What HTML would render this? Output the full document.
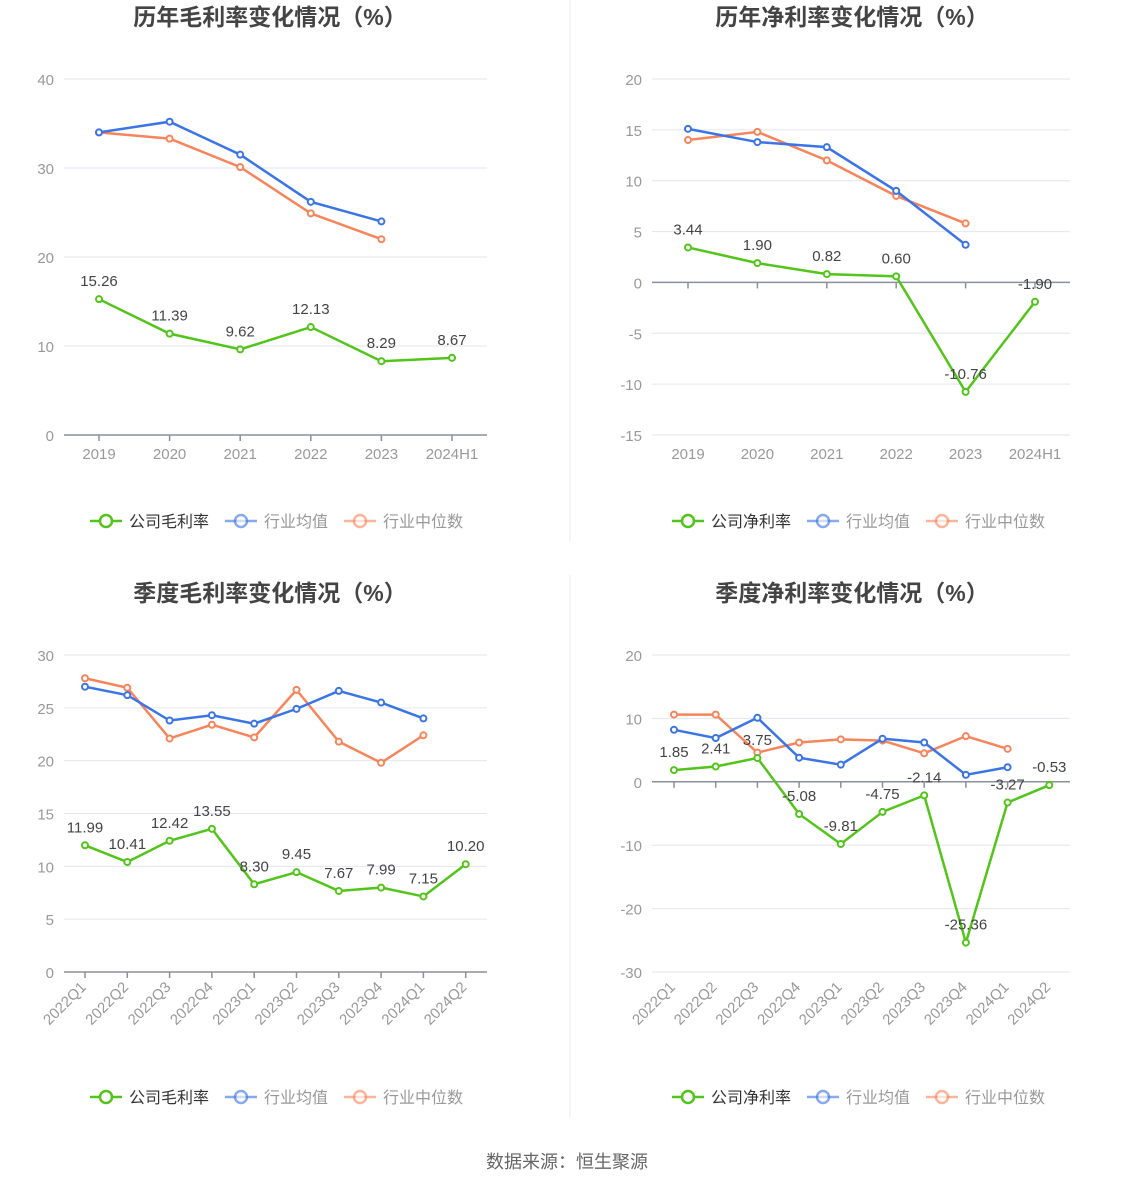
<!DOCTYPE html>
<html><head><meta charset="utf-8"><style>
body{margin:0;background:#fff;font-family:"Liberation Sans","Noto Sans CJK SC",sans-serif;}
svg{display:block}
</style></head><body>
<svg id="s" width="1134" height="1188" xmlns="http://www.w3.org/2000/svg">
<line x1="570" y1="0" x2="570" y2="542" stroke="#eceef3"/>
<line x1="570" y1="575" x2="570" y2="1118" stroke="#eceef3"/>
<text x="567" y="1168" text-anchor="middle" font-size="18" fill="#666">数据来源：恒生聚源</text>
</svg>
<script>
const yearCats=['2019','2020','2021','2022','2023','2024H1'];
const qCats=['2022Q1','2022Q2','2022Q3','2022Q4','2023Q1','2023Q2','2023Q3','2023Q4','2024Q1','2024Q2'];
const grossCompany=[15.26,11.39,9.62,12.13,8.29,8.67];
const grossAvg=[34.0,35.2,31.5,26.2,24.0];
const grossMed=[34.0,33.3,30.1,24.9,22.0];
const netCompany=[3.44,1.90,0.82,0.60,-10.76,-1.90];
const netAvg=[15.1,13.8,13.3,9.0,3.7];
const netMed=[14.0,14.8,12.0,8.5,5.8];
const qGrossCompany=[11.99,10.41,12.42,13.55,8.30,9.45,7.67,7.99,7.15,10.20];
const qGrossAvg=[27.0,26.2,23.8,24.3,23.5,24.9,26.6,25.5,24.0];
const qGrossMed=[27.8,26.9,22.1,23.4,22.2,26.7,21.8,19.8,22.4];
const qNetCompany=[1.85,2.41,3.75,-5.08,-9.81,-4.75,-2.14,-25.36,-3.27,-0.53];
const qNetAvg=[8.2,6.9,10.1,3.8,2.7,6.8,6.2,1.1,2.3];
const qNetMed=[10.6,10.6,4.6,6.2,6.7,6.5,4.5,7.2,5.2];
const yTicks1=[0,10,20,30,40];
const yTicks2=[-15,-10,-5,0,5,10,15,20];
const yTicks3=[0,5,10,15,20,25,30];
const yTicks4=[-30,-20,-10,0,10,20];
const NS='http://www.w3.org/2000/svg';
const svg=document.getElementById('s');
const GREEN='#52c41a',BLUE='#3a74e6',ORANGE='#f7845b';
function el(tag,attrs,parent){const e=document.createElementNS(NS,tag);for(const k in attrs)e.setAttribute(k,attrs[k]);(parent||svg).appendChild(e);return e;}
function chart(o){
  const g=el('g',{});
  
  
  const t=el('text',{x:o.cx,y:o.titleY,'text-anchor':'middle','font-size':23,'font-weight':'bold',fill:'#444'},g);
  t.textContent=o.title;
  
  
  const min=o.ticks[0],max=o.ticks[o.ticks.length-1];
  const Y=v=>o.yBot-(v-min)/(max-min)*(o.yBot-o.yTop);
  const X=i=>o.x0+i*o.step;
  o.ticks.forEach(v=>{
    const l=el('line',{x1:o.left,x2:o.right,y1:Y(v),y2:Y(v),stroke:'#e3e6ef'},g);
    
    
    const tx=el('text',{x:o.left-10,y:Y(v)+6,'text-anchor':'end','font-size':15,fill:'#999'},g);
    tx.textContent=v;
    
    
  });
  const ay=Y(0);
  const ax=el('line',{x1:o.left,x2:o.right,y1:ay,y2:ay,stroke:'#8c8f9c','stroke-width':1.5},g);
  
  
  o.cats.forEach((c,i)=>{
    const tk=el('line',{x1:X(i),x2:X(i),y1:ay,y2:ay+6,stroke:'#8c8f9c','stroke-width':1.5},g);
    
    
    let tx;
    if(o.rotate){
      const lx=X(i)+2,ly=o.yBot+16;
      tx=el('text',{x:lx,y:ly,'text-anchor':'end','font-size':15,fill:'#999',transform:`rotate(-45 ${lx} ${ly})`},g);
    } else {
      tx=el('text',{x:X(i),y:o.yBot+24,'text-anchor':'middle','font-size':15,fill:'#999'},g);
    }
    tx.textContent=c;
    
    
  });
  [[o.med,ORANGE,'median-series'],[o.avg,BLUE,'average-series'],[o.comp,GREEN,'company-series']].forEach(([d,col,nm])=>{
    const p=el('polyline',{points:d.map((v,i)=>X(i)+','+Y(v)).join(' '),fill:'none',stroke:col,'stroke-width':2.5},g);
    
    
    d.forEach((v,i)=>{
      const c=el('circle',{cx:X(i),cy:Y(v),r:3,fill:'#fff',stroke:col,'stroke-width':2},g);
      
      
      if(nm==='company-series'){
        const lb=el('text',{x:X(i),y:Y(v)-13,'text-anchor':'middle','font-size':15,fill:'#444'},g);
        lb.textContent=v.toFixed(2);
        
        
      }
    });
  });
  const items=[[o.compName,GREEN,90],['行业均值',BLUE,225],['行业中位数',ORANGE,344]];
  items.forEach(([n,col,dx])=>{
    const lg=el('g',{},g);
    
    
    const bx=o.legX+dx, by=o.legY;
    const op=n===o.compName?1:0.6;
    el('line',{x1:bx,x2:bx+32,y1:by,y2:by,stroke:col,'stroke-width':2.5,opacity:op},lg);
    el('circle',{cx:bx+16,cy:by,r:6,fill:'#fff',stroke:col,'stroke-width':2.5,opacity:op},lg);
    const tx=el('text',{x:bx+39,y:by+6,'font-size':16,fill:n===o.compName?'#333':'#999'},lg);
    tx.textContent=n;
  });
}
chart({name:'annual-gross-margin-chart',title:'历年毛利率变化情况（%）',cx:270,titleY:25,cats:yearCats,comp:grossCompany,avg:grossAvg,med:grossMed,ticks:yTicks1,yTop:79,yBot:435,left:64,right:487,x0:99,step:70.6,rotate:false,compName:'公司毛利率',legX:0,legY:521});
chart({name:'annual-net-margin-chart',title:'历年净利率变化情况（%）',cx:852,titleY:25,cats:yearCats,comp:netCompany,avg:netAvg,med:netMed,ticks:yTicks2,yTop:79,yBot:435,left:652,right:1070,x0:688,step:69.4,rotate:false,compName:'公司净利率',legX:582,legY:521});
chart({name:'quarterly-gross-margin-chart',title:'季度毛利率变化情况（%）',cx:270,titleY:601,cats:qCats,comp:qGrossCompany,avg:qGrossAvg,med:qGrossMed,ticks:yTicks3,yTop:655,yBot:972,left:64,right:487,x0:85,step:42.3,rotate:true,compName:'公司毛利率',legX:0,legY:1097});
chart({name:'quarterly-net-margin-chart',title:'季度净利率变化情况（%）',cx:852,titleY:601,cats:qCats,comp:qNetCompany,avg:qNetAvg,med:qNetMed,ticks:yTicks4,yTop:655,yBot:972,left:652,right:1070,x0:674,step:41.7,rotate:true,compName:'公司净利率',legX:582,legY:1097});
</script>
</body></html>
